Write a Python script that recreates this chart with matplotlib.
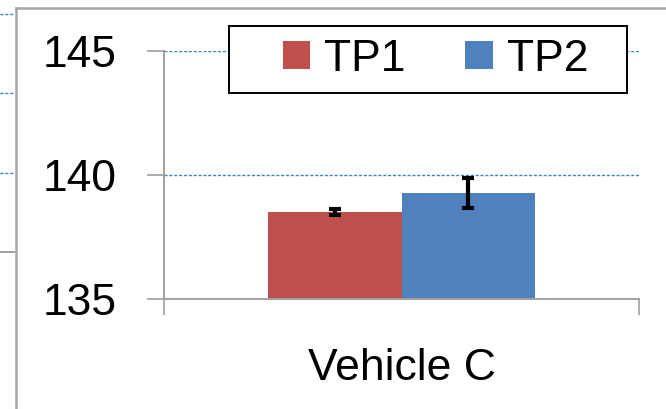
import matplotlib
matplotlib.use("Agg")
import matplotlib.pyplot as plt
from matplotlib.lines import Line2D
from matplotlib.patches import Rectangle

plt.rcParams['font.family'] = ['Liberation Sans', 'DejaVu Sans']

categories = ["Vehicle C"]
series = ["TP1", "TP2"]
values = [138.50, 139.27]
errors = [0.12, 0.60]
colors = ["#C0504D", "#4F81BD"]
yticks = [135, 140, 145]

W, H = 666, 409
fig = plt.figure(figsize=(W / 100, H / 100), dpi=100)
ax = fig.add_axes([164 / W, 1 - 299.3 / H, (639 - 164) / W, (299.3 - 51) / H])

bw = 0.282
offsets = [-bw / 2, bw / 2]
for i, (s, v, e, c) in enumerate(zip(series, values, errors, colors)):
    ax.bar(offsets[i], v - 135, bottom=135, width=bw, color=c, label=s, zorder=2)
    ax.errorbar(offsets[i], v, yerr=e, fmt='none', ecolor='black',
                elinewidth=3.0, capsize=4.5, capthick=3.0, zorder=3)

ax.set_xlim(-0.5, 0.5)
ax.set_ylim(135, 145)
ax.set_yticks(yticks)
ax.set_xticks([0])
ax.set_xticklabels(categories)
ax.set_xticks([-0.5, 0.5], minor=True)

for sp in ['top', 'right']:
    ax.spines[sp].set_visible(False)
for sp in ['left', 'bottom']:
    ax.spines[sp].set_color('#a0a0a0')
    ax.spines[sp].set_linewidth(1.4)

ax.tick_params(axis='y', direction='out', length=12.2, width=1.2, color='#a0a0a0',
               labelsize=32, pad=21.6, labelcolor='black')
ax.tick_params(axis='x', which='major', length=0, labelsize=32, pad=35)
ax.tick_params(axis='x', which='minor', direction='out', length=11.5, width=1.2,
               color='#a0a0a0')

for y in yticks[1:]:
    ax.axhline(y, color='#2f86d2', linewidth=1.0, dashes=(2.2, 1.3), zorder=1)

# legend box
fig.add_artist(Rectangle((229 / W, 1 - 93 / H), (627 - 229) / W, (93 - 26) / H,
                         transform=fig.transFigure, facecolor='white', edgecolor='black',
                         linewidth=1.4, zorder=4))
leg = ax.legend(loc='center', bbox_to_anchor=(435.5 / W, 1 - 59.5 / H),
                bbox_transform=fig.transFigure, ncol=2, fontsize=32,
                frameon=False, handlelength=0.61, handleheight=0.6, handletextpad=0.32,
                borderpad=0, borderaxespad=0, columnspacing=1.35)
leg.set_zorder(5)
fig.add_artist(leg)
ax.legend_ = None

# frame of the chart area and fragments of the neighbouring chart
fig.add_artist(Line2D([16 / W, 16 / W], [0, 1 - 8 / H], color='#a6a6a6', lw=1.8,
                      transform=fig.transFigure))
fig.add_artist(Line2D([16 / W, 1], [1 - 8 / H, 1 - 8 / H], color='#a6a6a6', lw=1.8,
                      transform=fig.transFigure))
for yy in [14, 93, 173]:
    fig.add_artist(Line2D([0, 14 / W], [1 - yy / H, 1 - yy / H], color='#2f86d2', lw=1.0,
                          dashes=(2.2, 1.3), transform=fig.transFigure))
fig.add_artist(Line2D([0, 14 / W], [1 - 252 / H, 1 - 252 / H], color='#a0a0a0', lw=1.4,
                      transform=fig.transFigure))

fig.savefig("out.png", dpi=100)
